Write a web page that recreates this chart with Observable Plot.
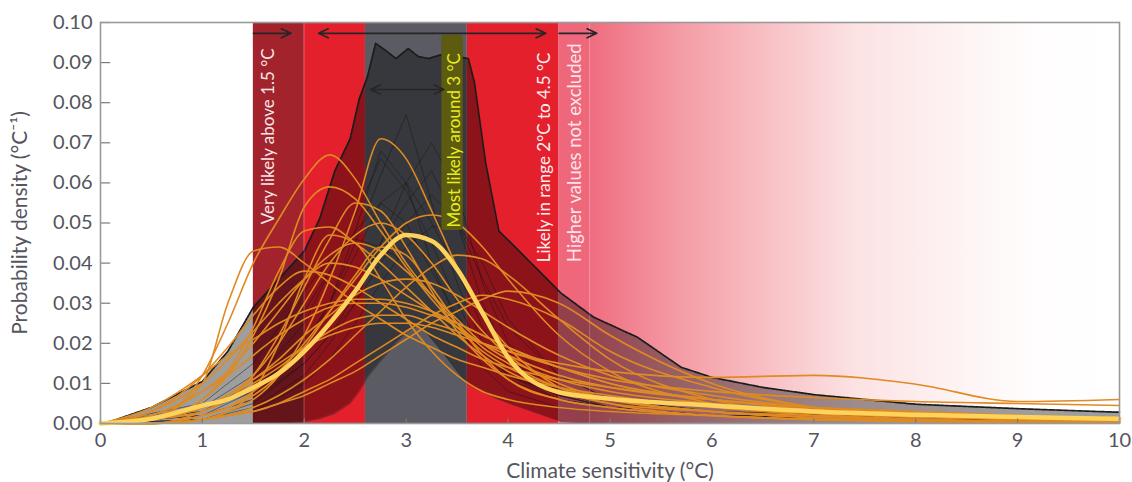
<!DOCTYPE html>
<html><head><meta charset="utf-8">
<script src="https://cdn.jsdelivr.net/npm/d3@7"></script>
<script src="https://cdn.jsdelivr.net/npm/@observablehq/plot@0.6"></script>
<style>body{margin:0;background:#fff;} #chart{width:1132px;height:482px;}</style>
</head><body><div id="chart"></div>
<script>
// ---- axis ticks & titles ----
const xTicks = [0,1,2,3,4,5,6,7,8,9,10];
const yTicks = [0,0.01,0.02,0.03,0.04,0.05,0.06,0.07,0.08,0.09,0.10];
const xTitle = "Climate sensitivity (°C)";
const yTitle = "Probability density (°C⁻¹)";

// ---- shaded bands (°C) ----
const bandX1 = [1.5, 2.0, 2.6, 3.6, 4.5];
const bandX2 = [2.0, 2.6, 3.6, 4.5, 4.8];
const bandFill = ["#a2232c", "#e4202c", "#5a5b63", "#e4202c", "#ee677b"];
const fadeX = [4.8, 10];
const fadeOffsets = [0, 0.17, 0.35, 0.5, 0.72, 0.84, 1];
const fadeColors = ["#ef6c80", "#f49ca5", "#f8c3c7", "#fce2e3", "#fef5f5", "#fffdfd", "#ffffff"];

// ---- envelope of all model PDFs ----
const envX     = [0, 0.1, 0.5, 1, 1.25, 1.5, 1.75, 2, 2.15, 2.3, 2.45, 2.54, 2.62, 2.7, 2.8, 2.9, 3.02, 3.12, 3.22, 3.35, 3.5, 3.61, 3.67, 3.78, 3.91, 4.07, 4.52, 4.84, 5.27, 5.7, 6.0, 6.5, 7, 8, 9, 10];
const envUpper = [0, 0.0005, 0.004, 0.0105, 0.018, 0.029, 0.036, 0.043, 0.051, 0.063, 0.071, 0.081, 0.0865, 0.0948, 0.093, 0.091, 0.0935, 0.0915, 0.091, 0.092, 0.0915, 0.091, 0.085, 0.065, 0.048, 0.044, 0.0325, 0.0265, 0.0215, 0.014, 0.0115, 0.009, 0.0072, 0.0048, 0.0037, 0.0028];
const envLower = [0, 0, 0, 0, 0, 0, 0, 0.0005, 0.0012, 0.0025, 0.005, 0.008, 0.0115, 0.014, 0.017, 0.02, 0.023, 0.0245, 0.022, 0.018, 0.013, 0.0098, 0.009, 0.0075, 0.006, 0.0045, 0.0005, 0, 0, 0, 0, 0, 0, 0, 0, 0];

// ---- individual (black) PDFs ----
const blackX = [0, 1, 1.5, 2, 2.25, 2.5, 2.75, 3, 3.25, 3.5, 3.75, 4, 4.5, 5, 6, 8, 10];
const blackCurves = [
  [0,0.003,0.008,0.02,0.03,0.045,0.062,0.077,0.055,0.035,0.02,0.012,0.006,0.004,0.002,0.001,0.0005],
  [0,0.002,0.006,0.015,0.022,0.032,0.045,0.06,0.07,0.058,0.035,0.02,0.009,0.005,0.003,0.0015,0.0008],
  [0,0.003,0.01,0.025,0.038,0.052,0.066,0.058,0.045,0.03,0.018,0.011,0.006,0.004,0.002,0.001,0.0005],
  [0,0.002,0.008,0.02,0.03,0.042,0.055,0.06,0.05,0.038,0.024,0.014,0.007,0.004,0.002,0.001,0.0005],
  [0,0.001,0.004,0.012,0.02,0.03,0.045,0.055,0.063,0.05,0.03,0.016,0.008,0.004,0.002,0.001,0.0005],
  [0,0.004,0.012,0.028,0.038,0.048,0.055,0.05,0.038,0.027,0.018,0.012,0.007,0.004,0.002,0.001,0.0005],
  [0,0.001,0.003,0.01,0.016,0.025,0.035,0.044,0.049,0.05,0.04,0.026,0.012,0.006,0.003,0.0015,0.0008],
  [0,0.002,0.006,0.018,0.03,0.048,0.068,0.06,0.04,0.025,0.014,0.008,0.004,0.003,0.002,0.001,0.0005],
  [0,0.005,0.015,0.033,0.041,0.046,0.044,0.04,0.033,0.025,0.018,0.012,0.007,0.004,0.002,0.001,0.0005],
  [0,0.001,0.005,0.015,0.022,0.03,0.04,0.05,0.057,0.05,0.036,0.024,0.012,0.006,0.003,0.0015,0.0008]
];

// ---- observation-based (orange) PDFs ----
const orangeX = [0, 0.5, 1, 1.25, 1.5, 1.75, 2, 2.25, 2.5, 2.75, 3, 3.25, 3.5, 3.75, 4, 4.5, 5, 6, 7, 8, 9, 10];
const orangeCurves = [
  [0,0.0015,0.01,0.03,0.043,0.044,0.04,0.035,0.03,0.026,0.022,0.019,0.016,0.014,0.012,0.009,0.007,0.004,0.0025,0.0015,0.001,0.0008],
  [0,0.001,0.012,0.025,0.04,0.051,0.061,0.067,0.061,0.05,0.04,0.032,0.025,0.019,0.015,0.009,0.006,0.003,0.0015,0.001,0.0005,0.0003],
  [0,0.001,0.006,0.012,0.022,0.036,0.054,0.059,0.056,0.048,0.039,0.031,0.024,0.018,0.014,0.009,0.006,0.003,0.0015,0.001,0.0005,0.0003],
  [0,0.001,0.006,0.013,0.024,0.038,0.048,0.049,0.045,0.04,0.034,0.028,0.022,0.017,0.013,0.008,0.005,0.003,0.002,0.001,0.0006,0.0004],
  [0,0,0.001,0.003,0.006,0.012,0.022,0.036,0.053,0.071,0.066,0.053,0.039,0.027,0.019,0.009,0.005,0.002,0.001,0.0005,0.0003,0.0002],
  [0,0,0.002,0.004,0.008,0.013,0.02,0.028,0.036,0.044,0.05,0.052,0.05,0.044,0.036,0.022,0.013,0.005,0.002,0.001,0.0005,0.0003],
  [0,0.001,0.004,0.007,0.012,0.02,0.03,0.04,0.047,0.05,0.047,0.04,0.031,0.023,0.017,0.01,0.006,0.003,0.0015,0.0008,0.0004,0.0002],
  [0,0.002,0.008,0.013,0.02,0.028,0.036,0.042,0.045,0.043,0.038,0.032,0.026,0.02,0.016,0.011,0.008,0.005,0.003,0.002,0.0012,0.0008],
  [0,0.003,0.01,0.016,0.023,0.03,0.036,0.04,0.039,0.036,0.032,0.028,0.024,0.02,0.017,0.012,0.009,0.006,0.004,0.003,0.002,0.0015],
  [0,0.001,0.004,0.007,0.011,0.016,0.022,0.027,0.032,0.035,0.036,0.035,0.032,0.028,0.024,0.017,0.012,0.007,0.004,0.0025,0.0015,0.001],
  [0,0.002,0.008,0.012,0.017,0.022,0.026,0.029,0.03,0.03,0.029,0.027,0.025,0.022,0.019,0.014,0.01,0.006,0.004,0.0025,0.0015,0.001],
  [0,0,0.001,0.002,0.004,0.007,0.011,0.016,0.022,0.028,0.034,0.039,0.042,0.041,0.037,0.026,0.016,0.006,0.0025,0.001,0.0005,0.0003],
  [0,0,0.001,0.003,0.008,0.02,0.036,0.047,0.045,0.036,0.026,0.018,0.012,0.008,0.006,0.004,0.003,0.002,0.001,0.0006,0.0004,0.0002],
  [0,0.001,0.003,0.006,0.01,0.014,0.019,0.023,0.026,0.027,0.027,0.025,0.023,0.02,0.018,0.015,0.013,0.0115,0.012,0.0098,0.0055,0.006],
  [0,0.001,0.004,0.007,0.011,0.015,0.019,0.022,0.024,0.025,0.025,0.024,0.022,0.02,0.018,0.014,0.011,0.008,0.0065,0.0055,0.005,0.0045],
  [0,0,0.001,0.002,0.003,0.005,0.008,0.011,0.015,0.019,0.023,0.027,0.03,0.032,0.031,0.026,0.018,0.009,0.004,0.002,0.001,0.0006],
  [0,0,0.002,0.004,0.007,0.012,0.019,0.028,0.037,0.044,0.042,0.034,0.025,0.017,0.011,0.006,0.004,0.002,0.001,0.0006,0.0003,0.0002],
  [0,0.003,0.012,0.019,0.027,0.034,0.038,0.037,0.034,0.03,0.026,0.022,0.019,0.016,0.014,0.011,0.009,0.006,0.004,0.003,0.002,0.0015],
  [0,0,0.003,0.006,0.012,0.022,0.034,0.046,0.055,0.053,0.044,0.033,0.023,0.016,0.011,0.006,0.004,0.002,0.001,0.0006,0.0003,0.0002],
  [0,0,0.001,0.002,0.003,0.005,0.007,0.01,0.013,0.017,0.021,0.025,0.028,0.031,0.033,0.03,0.022,0.01,0.004,0.002,0.001,0.0005],
  [0,0.004,0.012,0.017,0.021,0.025,0.028,0.03,0.031,0.031,0.03,0.028,0.025,0.022,0.019,0.014,0.01,0.006,0.0035,0.002,0.0012,0.0008]
];
// ---- mean (thick yellow) ----
const meanY = [0,0.0012,0.0045,0.006,0.009,0.0125,0.018,0.025,0.033,0.042,0.047,0.0455,0.0385,0.0275,0.0165,0.0078,0.0062,0.0045,0.003,0.0022,0.0016,0.0012];

// ---- annotations ----
const labelText = ["Very likely above 1.5 °C", "Most likely around 3 °C", "Likely in range 2°C to 4.5 °C", "Higher values not excluded"];
const labelX = [1.645, 3.47, 4.36, 4.655];
const labelY = [0.0497, 0.0489, 0.0402, 0.0402];
const labelSize = [17, 17, 17, 18.5];
const labelColor = ["#f7e6e8", "#e6ee1e", "#fbeef0", "#fce4e8"];
const highlightX = [3.35, 3.56];
const highlightY = [0.0481, 0.0968];
const arrowX1 = [1.5, 3.26, 3.26, 4.5, 3.01, 3.01];
const arrowX2 = [1.87, 2.14, 4.37, 4.87, 2.65, 3.37];
const arrowY  = [0.0973, 0.0973, 0.0973, 0.0973, 0.0833, 0.0833];

// ---- build tables ----
const envData = envX.map((x, i) => ({x, lo: envLower[i], hi: envUpper[i]}));
const blackData = blackCurves.flatMap((ys, k) => ys.map((y, i) => ({x: blackX[i], y, k})));
const orangeData = orangeCurves.flatMap((ys, k) => ys.map((y, i) => ({x: orangeX[i], y, k})));
const meanData = meanY.map((y, i) => ({x: orangeX[i], y}));
const arrowIdx = arrowX1.map((d, i) => i);

const FONT = "Lato, 'Open Sans', sans-serif";
const AXIS = "#55555e";

const marks = [];
bandX1.forEach((d, i) => marks.push(Plot.rect([i], {x1: j => bandX1[j], x2: j => bandX2[j], y1: 0, y2: 0.1, fill: bandFill[i]})));
marks.push(Plot.rect([0], {x1: () => fadeX[0], x2: () => fadeX[1], y1: 0, y2: 0.1, fill: "url(#pinkFade)"}));
marks.push(Plot.areaY(envData, {x: "x", y1: "lo", y2: "hi", fill: "#000", fillOpacity: 0.38}));
marks.push(Plot.line(blackData, {x: "x", y: "y", z: "k", stroke: "#161616", strokeOpacity: 0.55, strokeWidth: 0.9}));
marks.push(Plot.line(envData, {x: "x", y: "lo", stroke: "#222", strokeOpacity: 0.5, strokeWidth: 1}));
marks.push(Plot.line(envData, {x: "x", y: "hi", stroke: "#1c1c1c", strokeWidth: 1.7, strokeDasharray: "2.5,1"}));
marks.push(Plot.ruleX([2, 4.8], {y1: 0, y2: 0.1, stroke: "#fff", strokeOpacity: 0.18, strokeWidth: 1}));
marks.push(Plot.line(orangeData, {x: "x", y: "y", z: "k", stroke: "#df8a22", strokeWidth: 1.6, curve: "monotone-x"}));
marks.push(Plot.line(meanData, {x: "x", y: "y", stroke: "#fdd35c", strokeWidth: 4.5, curve: "monotone-x"}));
marks.push(Plot.rect([0], {x1: () => highlightX[0], x2: () => highlightX[1], y1: () => highlightY[0], y2: () => highlightY[1], fill: "#5c5b10", rx: 3}));
labelText.forEach((t, i) => marks.push(Plot.text([t], {x: () => labelX[i], y: () => labelY[i], text: d => d, rotate: -90, textAnchor: "start", fill: labelColor[i], fontSize: labelSize[i], fontFamily: FONT})));
marks.push(Plot.arrow(arrowIdx, {x1: i => arrowX1[i], x2: i => arrowX2[i], y1: i => arrowY[i], y2: i => arrowY[i], stroke: "#262626", strokeWidth: 1.6, headLength: 10, headAngle: 50}));
marks.push(Plot.ruleY(yTicks, {x1: 0, x2: 0.1, stroke: "#7a7a7a", strokeWidth: 1.2}));
marks.push(Plot.ruleX(xTicks, {y1: 0, y2: 0.0011, stroke: "#7a7a7a", strokeWidth: 1.2}));
marks.push(Plot.frame({stroke: "#9a9a9a", strokeWidth: 1.6}));
marks.push(Plot.axisX({ticks: xTicks, tickSize: 0, tickPadding: 9, fontSize: 20, label: null}));
marks.push(Plot.axisY({ticks: yTicks, tickSize: 0, tickPadding: 8, fontSize: 20, tickFormat: d3.format(".2f"), label: null}));
marks.push(Plot.text([xTitle], {frameAnchor: "bottom", dy: 48, text: d => d, textAnchor: "middle", lineAnchor: "middle", fontSize: 21, fill: AXIS, fontFamily: FONT}));
marks.push(Plot.text([yTitle], {frameAnchor: "left", dx: -80, rotate: -90, text: d => d, textAnchor: "middle", lineAnchor: "middle", fontSize: 21, fill: AXIS, fontFamily: FONT}));

const chart = Plot.plot({
  width: 1132, height: 482,
  marginLeft: 100, marginRight: 13, marginTop: 22, marginBottom: 59,
  x: {domain: [0, 10]},
  y: {domain: [0, 0.1]},
  style: {fontFamily: FONT, fontSize: "18px", color: AXIS, background: "#fff"},
  marks
});

const svg = d3.select(chart);
const grad = svg.insert("defs", ":first-child").append("linearGradient")
  .attr("id", "pinkFade").attr("x1", "0").attr("x2", "1").attr("y1", "0").attr("y2", "0");
fadeOffsets.forEach((o, i) => grad.append("stop").attr("offset", o).attr("stop-color", fadeColors[i]));

document.getElementById("chart").appendChild(chart);
</script>
</body></html>
